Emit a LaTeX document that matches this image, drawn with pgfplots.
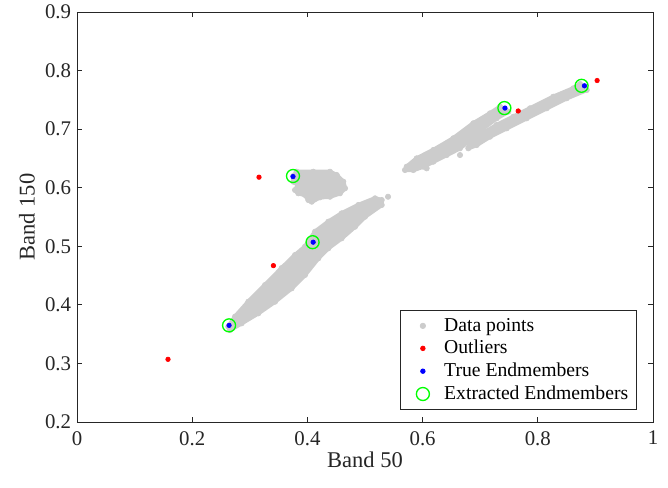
\documentclass[border=0pt]{standalone}
\usepackage{pgfplots}
\pgfplotsset{compat=1.18}
\usepackage{fontspec}
\setmainfont{Liberation Serif}
\definecolor{dgray}{rgb}{0.8,0.8,0.8}
\definecolor{axc}{rgb}{0.15,0.15,0.15}
\begin{document}
\begin{tikzpicture}
\useasboundingbox (-46.2pt,-39pt) rectangle (354.6pt,253.2pt);
\begin{axis}[
 at={(0,0)}, anchor=south west,
 scale only axis, width=345.6pt, height=246pt,
 xmin=0, xmax=1, ymin=0.2, ymax=0.9,
 xtick={0,0.2,0.4,0.6,0.8,1}, ytick={0.2,0.3,0.4,0.5,0.6,0.7,0.8,0.9},
 /pgf/number format/assume math mode=true,
 /pgf/number format/fixed,
 xticklabel={\pgfmathprintnumber{\tick}},
 yticklabel={\pgfmathprintnumber{\tick}},
 tick label style={font=\fontsize{12.5}{14}\selectfont, text=axc},
 xticklabel style={yshift=-2pt},
 label style={font=\fontsize{13.5}{15}\selectfont, text=axc},
 axis line style={axc, line width=0.5pt},
 tick style={axc, line width=0.5pt},
 major tick length=3pt,
 tick align=inside,
 xlabel={Band 50}, ylabel={Band 150},
 xlabel style={at={(axis description cs:0.5,-0.092)}, anchor=center},
 ylabel style={at={(axis description cs:-0.087,0.5)}, anchor=center},
 legend style={at={(axis description cs:0.9722,0.0293)}, anchor=south east,
   draw=axc, line width=0.5pt, font=\fontsize{11.8}{13}\selectfont, text=black,
   row sep=0pt, inner xsep=3pt, inner ysep=2.5pt},
 legend cell align=left,
 legend image code/.code={\path[draw=none, fill=none] (0pt,0pt) -- (21pt,0pt);
   \draw plot[only marks] coordinates {(10.2pt,0pt)};},
]
% gray data cloud: outlines filled
\addplot[forget plot, fill=dgray, draw=dgray, line width=2.6pt, line join=round] coordinates {
(0.2627,0.3627) (0.2743,0.3798) (0.2974,0.4054) (0.3264,0.4339) (0.3554,0.4629) (0.3785,0.4851) (0.3958,0.4993) (0.4132,0.5249) (0.4363,0.5420) (0.4595,0.5563) (0.4884,0.5705) (0.5174,0.5819) (0.5290,0.5790) (0.5290,0.5705) (0.5000,0.5505) (0.4826,0.5334) (0.4595,0.5136) (0.4363,0.4966) (0.4189,0.4795) (0.3958,0.4510) (0.3727,0.4282) (0.3438,0.4054) (0.3148,0.3856) (0.2859,0.3685) (0.2656,0.3571)} -- cycle;
\addplot[forget plot, fill=dgray, draw=dgray, line width=2.6pt, line join=round] coordinates {
(0.3814,0.6273) (0.4102,0.6273) (0.4392,0.6273) (0.4509,0.6217) (0.4623,0.6103) (0.4653,0.5990) (0.4566,0.5905) (0.4392,0.5846) (0.4219,0.5836) (0.4075,0.5761) (0.4016,0.5790) (0.3958,0.5876) (0.3842,0.5905) (0.3785,0.5961) (0.3842,0.6046) (0.3755,0.6103) (0.3755,0.6200)} -- cycle;
\addplot[forget plot, fill=dgray, draw=dgray, line width=2.6pt, line join=round] coordinates {
(0.5694,0.6302) (0.5724,0.6359) (0.5898,0.6502) (0.6186,0.6644) (0.6533,0.6844) (0.6880,0.7100) (0.7170,0.7270) (0.7344,0.7383) (0.7488,0.7298) (0.7286,0.7185) (0.7054,0.7014) (0.6823,0.6815) (0.6649,0.6673) (0.6418,0.6558) (0.6186,0.6444) (0.6012,0.6359) (0.5839,0.6302)} -- cycle;
\addplot[forget plot, fill=dgray, draw=dgray, line width=2.6pt, line join=round] coordinates {
(0.6793,0.6673) (0.6823,0.6758) (0.6997,0.6900) (0.7286,0.7071) (0.7575,0.7212) (0.7865,0.7356) (0.8269,0.7554) (0.8616,0.7697) (0.8733,0.7771) (0.8849,0.7668) (0.8502,0.7527) (0.8155,0.7356) (0.7807,0.7185) (0.7460,0.7014) (0.7170,0.6871) (0.6939,0.6729)} -- cycle;
% gray data points
\addplot[only marks, mark=*, mark size=1.6pt, color=dgray] coordinates {
(0.2627,0.3627) (0.2743,0.3798) (0.2974,0.4054) (0.3264,0.4339) (0.3554,0.4629) (0.3785,0.4851) (0.3958,0.4993) (0.4132,0.5249) (0.4363,0.5420) (0.4595,0.5563) (0.4884,0.5705) (0.5174,0.5819) (0.5290,0.5790) (0.5290,0.5705) (0.5000,0.5505) (0.4826,0.5334) (0.4595,0.5136) (0.4363,0.4966) (0.4189,0.4795) (0.3958,0.4510) (0.3727,0.4282) (0.3438,0.4054) (0.3148,0.3856) (0.2859,0.3685) (0.2656,0.3571)
(0.3814,0.6273) (0.4102,0.6273) (0.4392,0.6273) (0.4509,0.6217) (0.4623,0.6103) (0.4653,0.5990) (0.4566,0.5905) (0.4392,0.5846) (0.4219,0.5836) (0.4075,0.5761) (0.4016,0.5790) (0.3958,0.5876) (0.3842,0.5905) (0.3785,0.5961) (0.3842,0.6046) (0.3755,0.6103) (0.3755,0.6200)
(0.5694,0.6302) (0.5724,0.6359) (0.5898,0.6502) (0.6186,0.6644) (0.6533,0.6844) (0.6880,0.7100) (0.7170,0.7270) (0.7344,0.7383) (0.7488,0.7298) (0.7286,0.7185) (0.7054,0.7014) (0.6823,0.6815) (0.6649,0.6673) (0.6418,0.6558) (0.6186,0.6444) (0.6012,0.6359) (0.5839,0.6302)
(0.6793,0.6673) (0.6823,0.6758) (0.6997,0.6900) (0.7286,0.7071) (0.7575,0.7212) (0.7865,0.7356) (0.8269,0.7554) (0.8616,0.7697) (0.8733,0.7771) (0.8849,0.7668) (0.8502,0.7527) (0.8155,0.7356) (0.7807,0.7185) (0.7460,0.7014) (0.7170,0.6871) (0.6939,0.6729)
(0.5400,0.5846) (0.6649,0.6558) (0.6071,0.6331)};
\addlegendentry{Data points}
\addplot[only marks, mark=*, mark size=1.35pt, color=red] coordinates {
(0.903,0.783) (0.766,0.731) (0.316,0.618) (0.341,0.467) (0.158,0.307)};
\addlegendentry{Outliers}
\addplot[only marks, mark=*, mark size=1.35pt, color=blue] coordinates {
(0.264,0.365) (0.410,0.507) (0.375,0.619) (0.743,0.736) (0.881,0.774)};
\addlegendentry{True Endmembers}
\addplot[only marks, mark=o, mark size=3.9pt, color=green, mark options={line width=0.8pt}] coordinates {
(0.264,0.365) (0.409,0.507) (0.375,0.620) (0.742,0.736) (0.876,0.774)};
\addlegendentry{Extracted Endmembers}
\end{axis}
\end{tikzpicture}
\end{document}
